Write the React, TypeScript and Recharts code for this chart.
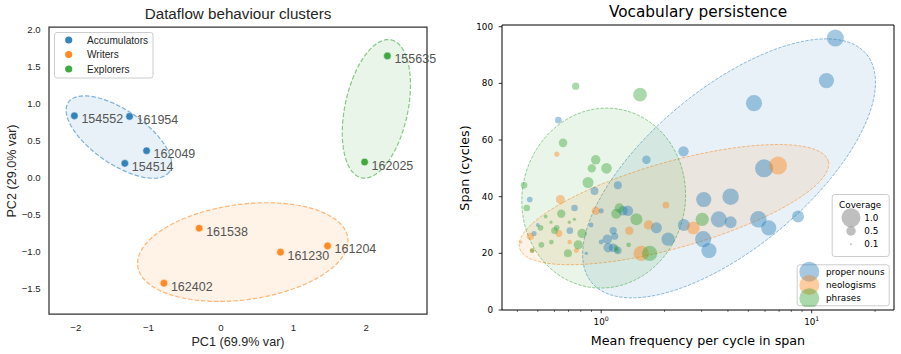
import React from 'react';
import { ScatterChart, Scatter, XAxis, YAxis, Legend } from 'recharts';

const TAB_BLUE = '#1f77b4';
const TAB_ORANGE = '#ff7f0e';
const TAB_GREEN = '#2ca02c';

const SANS = '"Liberation Sans", Arial, sans-serif';
const DEJAVU = '"DejaVu Sans", sans-serif';
const INK = '#262626';

type Pt = { x: number; y: number };
type Labeled = Pt & { id: string };
type Bubble = Pt & { cov: number };

// ---------- Dataflow behaviour clusters (PCA projection) ----------
const clusterNames = ['Accumulators', 'Writers', 'Explorers'];
const clusterColors = [TAB_BLUE, TAB_ORANGE, TAB_GREEN];

const accumulators: Labeled[] = [
  { id: '154552', x: -2.02, y: 0.836 },
  { id: '161954', x: -1.26, y: 0.828 },
  { id: '162049', x: -1.025, y: 0.363 },
  { id: '154514', x: -1.325, y: 0.192 },
];
const writers: Labeled[] = [
  { id: '161538', x: -0.3, y: -0.687 },
  { id: '161230', x: 0.82, y: -1.012 },
  { id: '161204', x: 1.47, y: -0.927 },
  { id: '162402', x: -0.786, y: -1.432 },
];
const explorers: Labeled[] = [
  { id: '155635', x: 2.294, y: 1.648 },
  { id: '162025', x: 1.98, y: 0.21 },
];

// Cluster ellipses: centre, then the ends of two conjugate semi-diameters
const accumulatorsEllipse: Pt[] = [
  { x: -1.407, y: 0.548 },
  { x: -0.711, y: 0.076 },
  { x: -1.619, y: 0.249 },
];
const writersEllipse: Pt[] = [
  { x: 0.301, y: -1.011 },
  { x: 1.749, y: -0.819 },
  { x: 0.39, y: -1.652 },
];
const explorersEllipse: Pt[] = [
  { x: 2.142, y: 0.931 },
  { x: 2.345, y: 1.866 },
  { x: 2.566, y: 0.843 },
];

const pcXDomain = [-2.37, 2.84];
const pcYDomain = [-1.85, 2.04];
const pcXTicks = [-2, -1, 0, 1, 2];
const pcYTicks = [-1.5, -1, -0.5, 0, 0.5, 1, 1.5, 2];

// ---------- Vocabulary persistence ----------
const vocabNames = ['proper nouns', 'neologisms', 'phrases'];
const vocabColors = [TAB_BLUE, TAB_ORANGE, TAB_GREEN];

const properNouns: Bubble[] = [
  { x: 12.95, y: 96, cov: 0.9 },
  { x: 11.75, y: 81, cov: 0.8 },
  { x: 5.32, y: 73, cov: 0.85 },
  { x: 0.626, y: 67, cov: 0.35 },
  { x: 2.46, y: 56, cov: 0.55 },
  { x: 1.64, y: 53, cov: 0.45 },
  { x: 5.94, y: 50, cov: 0.95 },
  { x: 0.93, y: 42, cov: 0.42 },
  { x: 1.2, y: 44, cov: 0.42 },
  { x: 0.458, y: 39, cov: 0.3 },
  { x: 3.07, y: 39, cov: 0.8 },
  { x: 4.12, y: 40, cov: 0.87 },
  { x: 0.747, y: 36, cov: 0.35 },
  { x: 1.27, y: 35, cov: 0.5 },
  { x: 1.34, y: 35, cov: 0.55 },
  { x: 1.0, y: 35, cov: 0.27 },
  { x: 0.5, y: 30, cov: 0.2 },
  { x: 0.48, y: 27, cov: 0.27 },
  { x: 0.71, y: 28, cov: 0.35 },
  { x: 0.895, y: 30, cov: 0.26 },
  { x: 1.14, y: 28, cov: 0.38 },
  { x: 1.16, y: 26, cov: 0.37 },
  { x: 1.0, y: 24, cov: 0.26 },
  { x: 1.07, y: 25, cov: 0.5 },
  { x: 1.08, y: 22, cov: 0.5 },
  { x: 1.14, y: 22, cov: 0.45 },
  { x: 1.2, y: 21, cov: 0.4 },
  { x: 0.85, y: 20, cov: 0.18 },
  { x: 1.83, y: 29, cov: 0.58 },
  { x: 2.08, y: 25, cov: 0.7 },
  { x: 2.47, y: 30, cov: 0.63 },
  { x: 3.62, y: 32, cov: 0.85 },
  { x: 4.12, y: 31, cov: 0.63 },
  { x: 5.58, y: 32, cov: 0.87 },
  { x: 6.25, y: 29, cov: 0.8 },
  { x: 8.61, y: 33, cov: 0.63 },
  { x: 3.05, y: 25, cov: 0.85 },
  { x: 3.25, y: 21, cov: 0.8 },
];

const neologisms: Bubble[] = [
  { x: 6.92, y: 51, cov: 0.95 },
  { x: 0.616, y: 55, cov: 0.27 },
  { x: 0.64, y: 39, cov: 0.47 },
  { x: 0.944, y: 35, cov: 0.44 },
  { x: 2.03, y: 37, cov: 0.35 },
  { x: 1.68, y: 30, cov: 0.5 },
  { x: 1.36, y: 28, cov: 0.44 },
  { x: 1.55, y: 20, cov: 0.8 },
  { x: 2.74, y: 29, cov: 0.68 },
  { x: 0.63, y: 27, cov: 0.36 },
  { x: 0.461, y: 26, cov: 0.38 },
  { x: 0.415, y: 24, cov: 0.17 },
  { x: 0.708, y: 24, cov: 0.23 },
  { x: 0.762, y: 21, cov: 0.26 },
  { x: 0.47, y: 21, cov: 0.25 },
];

const phrases: Bubble[] = [
  { x: 0.757, y: 79, cov: 0.38 },
  { x: 1.53, y: 76, cov: 0.72 },
  { x: 0.659, y: 59, cov: 0.45 },
  { x: 0.942, y: 53, cov: 0.5 },
  { x: 0.902, y: 50, cov: 0.44 },
  { x: 1.06, y: 50, cov: 0.56 },
  { x: 0.866, y: 45, cov: 0.58 },
  { x: 0.43, y: 44, cov: 0.35 },
  { x: 0.443, y: 36, cov: 0.35 },
  { x: 0.646, y: 34, cov: 0.44 },
  { x: 0.545, y: 33, cov: 0.2 },
  { x: 0.578, y: 31, cov: 0.17 },
  { x: 0.706, y: 31, cov: 0.18 },
  { x: 0.746, y: 32, cov: 0.18 },
  { x: 0.515, y: 29, cov: 0.3 },
  { x: 0.6, y: 28, cov: 0.35 },
  { x: 0.615, y: 29, cov: 0.3 },
  { x: 0.812, y: 27, cov: 0.5 },
  { x: 0.52, y: 23, cov: 0.3 },
  { x: 0.58, y: 24, cov: 0.25 },
  { x: 0.778, y: 23, cov: 0.48 },
  { x: 0.695, y: 20, cov: 0.42 },
  { x: 0.47, y: 21, cov: 0.25 },
  { x: 1.18, y: 34, cov: 0.53 },
  { x: 1.22, y: 36, cov: 0.5 },
  { x: 1.47, y: 32, cov: 0.63 },
  { x: 1.7, y: 20, cov: 0.8 },
  { x: 1.35, y: 23, cov: 0.25 },
  { x: 1.18, y: 22, cov: 0.25 },
  { x: 1.19, y: 21, cov: 0.25 },
  { x: 3.02, y: 32, cov: 0.7 },
];

const properNounsEllipse: Pt[] = [
  { x: 4.05, y: 50.0 },
  { x: 18.2, y: 90.3 },
  { x: 7.05, y: 28.4 },
];
const neologismsEllipse: Pt[] = [
  { x: 2.215, y: 37.2 },
  { x: 11.98, y: 52.6 },
  { x: 2.518, y: 22.6 },
];
const phrasesEllipse: Pt[] = [
  { x: 1.028, y: 39.5 },
  { x: 1.214, y: 70.9 },
  { x: 2.479, y: 34.7 },
];

const freqDomain = [0.338, 24.6];
const spanDomain = [0, 100.6];
const freqTicks = [0.4, 0.5, 0.6, 0.7, 0.8, 0.9, 1, 2, 3, 4, 5, 6, 7, 8, 9, 10, 20];
const spanTicks = [0, 20, 40, 60, 80, 100];
const coverageLevels = [1.0, 0.5, 0.1];
const R_MAX = 9.5; // bubble radius in px at coverage 1.0

// ---------- helpers ----------
const minus = (s: string) => s.replace('-', '\u2212');

// Corners of the axes box, taken from the axis limits
const frameCorners = (xd: number[], yd: number[]): Pt[] => [
  { x: xd[0], y: yd[0] },
  { x: xd[1], y: yd[0] },
  { x: xd[1], y: yd[1] },
  { x: xd[0], y: yd[1] },
];

function frameLine(color: string, strokeWidth: number) {
  return (props: any) => {
    const pts: { x: number; y: number }[] = props.points || [];
    const d = pts.map((p, i) => (i === 0 ? 'M' : 'L') + p.x + ',' + p.y).join('') + 'Z';
    return <path d={d} fill="none" stroke={color} strokeWidth={strokeWidth} />;
  };
}

// Closed ellipse through pixel points: centre c, conjugate ends a and b
function ellipsePath(points: { x: number; y: number }[]) {
  if (!points || points.length < 3) return '';
  const [c, a, b] = points;
  const px = a.x - c.x;
  const py = a.y - c.y;
  const qx = b.x - c.x;
  const qy = b.y - c.y;
  const steps = 120;
  let d = '';
  for (let i = 0; i <= steps; i++) {
    const t = (i / steps) * Math.PI * 2;
    const x = c.x + px * Math.cos(t) + qx * Math.sin(t);
    const y = c.y + py * Math.cos(t) + qy * Math.sin(t);
    d += (i === 0 ? 'M' : 'L') + x.toFixed(2) + ',' + y.toFixed(2);
  }
  return d + 'Z';
}

function ellipseLine(color: string, strokeWidth: number, dash: string) {
  return (props: any) => (
    <path
      d={ellipsePath(props.points)}
      fill={color}
      fillOpacity={0.1}
      stroke={color}
      strokeOpacity={0.55}
      strokeWidth={strokeWidth}
      strokeDasharray={dash}
    />
  );
}

const noMarker = () => <g />;

function labeledDot(color: string) {
  return (props: any) => {
    const { cx, cy } = props;
    const id = props.payload?.id ?? props.id;
    return (
      <g>
        <circle cx={cx} cy={cy} r={3.8} fill={color} fillOpacity={0.9} stroke="#fff" strokeWidth={0.5} />
        <text x={cx + 7} y={cy + 3.5} dominantBaseline="central" fontSize={12.5} fill="#555" fontFamily={SANS}>
          {id}
        </text>
      </g>
    );
  };
}

function bubble(color: string) {
  return (props: any) => {
    const cov = props.payload?.cov ?? props.cov;
    return <circle cx={props.cx} cy={props.cy} r={R_MAX * cov} fill={color} fillOpacity={0.4} />;
  };
}

// ---------- tick renderers ----------
const PcXTick = (p: any) => (
  <text x={p.x} y={p.y + 13} textAnchor="middle" dominantBaseline="central" fontSize={9.6} fill={INK} fontFamily={SANS}>
    {minus(String(p.payload.value))}
  </text>
);

const PcYTick = (p: any) => (
  <text x={p.x - 8.3} y={p.y} textAnchor="end" dominantBaseline="central" fontSize={9.6} fill={INK} fontFamily={SANS}>
    {minus(Number(p.payload.value).toFixed(1))}
  </text>
);

const FreqTick = (p: any) => {
  const v = Number(p.payload.value);
  const e = Math.log10(v);
  const major = Math.abs(e - Math.round(e)) < 1e-6;
  return (
    <g>
      <line x1={p.x} x2={p.x} y1={p.y} y2={p.y + (major ? 3.3 : 1.9)} stroke="#000" strokeWidth={major ? 0.8 : 0.6} />
      {major && (
        <text x={p.x} y={p.y + 15} textAnchor="middle" fontSize={8.8} fill="#000" fontFamily={DEJAVU}>
          10
          <tspan dy={-4} fontSize={6.2}>
            {Math.round(e)}
          </tspan>
        </text>
      )}
    </g>
  );
};

const SpanTick = (p: any) => (
  <g>
    <line x1={p.x} x2={p.x - 3.3} y1={p.y} y2={p.y} stroke="#000" strokeWidth={0.8} />
    <text x={p.x - 9} y={p.y} textAnchor="end" dominantBaseline="central" fontSize={8.8} fill="#000" fontFamily={DEJAVU}>
      {p.payload.value}
    </text>
  </g>
);

// ---------- legends ----------
const ClusterLegend = () => (
  <svg width={100} height={47} style={{ display: 'block' }}>
    <rect x={0.5} y={0.5} width={98.5} height={45.5} rx={2.5} fill="#fff" fillOpacity={0.8} stroke="#cccccc" />
    {clusterNames.map((n, i) => (
      <g key={n}>
        <circle cx={14.7} cy={8 + 14.5 * i} r={3.6} fill={clusterColors[i]} fillOpacity={0.9} />
        <text x={33} y={8 + 14.5 * i} dominantBaseline="central" fontSize={10.1} fontFamily={SANS} fill={INK}>
          {n}
        </text>
      </g>
    ))}
  </svg>
);

const VocabLegend = () => (
  <svg width={100} height={113} style={{ display: 'block' }}>
    <g transform="translate(35.7,0)">
      <rect x={0.5} y={0.5} width={57} height={62} rx={2.5} fill="#fff" fillOpacity={0.8} stroke="#cccccc" />
      <text x={28.5} y={10.7} textAnchor="middle" dominantBaseline="central" fontSize={8.8} fontFamily={DEJAVU} fill="#000">
        Coverage
      </text>
      {coverageLevels.map((c, i) => (
        <g key={c}>
          <circle cx={19.3} cy={23.7 + 13.3 * i} r={R_MAX * c} fill="#808080" fillOpacity={0.5} />
          <text x={32.6} y={23.7 + 13.3 * i} dominantBaseline="central" fontSize={8.8} fontFamily={DEJAVU} fill="#000">
            {c.toFixed(1)}
          </text>
        </g>
      ))}
    </g>
    <g transform="translate(0.7,70.3)">
      <rect x={0.5} y={0.5} width={92} height={41} rx={2.5} fill="#fff" fillOpacity={0.8} stroke="#cccccc" />
      {vocabNames.map((n, i) => (
        <g key={n}>
          <circle cx={12.6} cy={7.4 + 13.3 * i} r={10} fill={vocabColors[i]} fillOpacity={0.4} />
          <text x={29.3} y={7.4 + 13.3 * i} dominantBaseline="central" fontSize={8.8} fontFamily={DEJAVU} fill="#000">
            {n}
          </text>
        </g>
      ))}
    </g>
  </svg>
);

// ---------- panels ----------
function ClusterPanel() {
  const groups = [accumulators, writers, explorers];
  const ellipses = [accumulatorsEllipse, writersEllipse, explorersEllipse];
  return (
    <ScatterChart width={450} height={354} margin={{ top: 27, right: 23, bottom: 0, left: 0 }}>
      <XAxis
        type="number"
        dataKey="x"
        domain={pcXDomain}
        ticks={pcXTicks}
        interval={0}
        height={40}
        axisLine={false}
        tickLine={false}
        tickSize={0}
        tickMargin={0}
        tick={(p: any) => <PcXTick {...p} />}
      />
      <YAxis
        type="number"
        dataKey="y"
        domain={pcYDomain}
        ticks={pcYTicks}
        interval={0}
        width={49}
        axisLine={false}
        tickLine={false}
        tickSize={0}
        tickMargin={0}
        tick={(p: any) => <PcYTick {...p} />}
      />
      <Scatter
        name="frame"
        data={frameCorners(pcXDomain, pcYDomain)}
        legendType="none"
        fill="#333"
        shape={noMarker}
        line={frameLine('#333', 1.25)}
        isAnimationActive={false}
      />
      {ellipses.map((e, i) => (
        <Scatter
          key={'e' + i}
          name={'ellipse ' + clusterNames[i]}
          data={e}
          legendType="none"
          shape={noMarker}
          line={ellipseLine(clusterColors[i], 1.2, '4.5 2')}
          isAnimationActive={false}
        />
      ))}
      {groups.map((g, i) => (
        <Scatter
          key={clusterNames[i]}
          name={clusterNames[i]}
          data={g}
          fill={clusterColors[i]}
          shape={labeledDot(clusterColors[i])}
          isAnimationActive={false}
        />
      ))}
      <Legend
        layout="vertical"
        align="center"
        verticalAlign="middle"
        content={() => <ClusterLegend />}
        wrapperStyle={{ left: 54, top: 32, width: 100, height: 47 }}
      />
    </ScatterChart>
  );
}

function VocabPanel() {
  const groups = [properNouns, neologisms, phrases];
  const ellipses = [properNounsEllipse, neologismsEllipse, phrasesEllipse];
  return (
    <ScatterChart width={451} height={354} margin={{ top: 25, right: 7, bottom: 0, left: 0 }}>
      <XAxis
        type="number"
        dataKey="x"
        scale="log"
        domain={freqDomain}
        ticks={freqTicks}
        interval={0}
        height={44}
        axisLine={false}
        tickLine={false}
        tickSize={0}
        tickMargin={0}
        tick={(p: any) => <FreqTick {...p} />}
      />
      <YAxis
        type="number"
        dataKey="y"
        domain={spanDomain}
        ticks={spanTicks}
        interval={0}
        width={52}
        axisLine={false}
        tickLine={false}
        tickSize={0}
        tickMargin={0}
        tick={(p: any) => <SpanTick {...p} />}
      />
      <Scatter
        name="frame"
        data={frameCorners(freqDomain, spanDomain)}
        legendType="none"
        fill="#000"
        shape={noMarker}
        line={frameLine('#000', 1)}
        isAnimationActive={false}
      />
      {ellipses.map((e, i) => (
        <Scatter
          key={'e' + i}
          name={'ellipse ' + vocabNames[i]}
          data={e}
          legendType="none"
          shape={noMarker}
          line={ellipseLine(vocabColors[i], 0.9, '3.3 1.4')}
          isAnimationActive={false}
        />
      ))}
      {groups.map((g, i) => (
        <Scatter
          key={vocabNames[i]}
          name={vocabNames[i]}
          data={g}
          fill={vocabColors[i]}
          shape={bubble(vocabColors[i])}
          isAnimationActive={false}
        />
      ))}
      <Legend
        layout="vertical"
        align="center"
        verticalAlign="middle"
        content={() => <VocabLegend />}
        wrapperStyle={{ left: 346, top: 194, width: 100, height: 113 }}
      />
    </ScatterChart>
  );
}

const abs = (left: number, top: number, extra: React.CSSProperties = {}): React.CSSProperties => ({
  position: 'absolute',
  left,
  top,
  transform: 'translate(-50%, -50%)',
  whiteSpace: 'nowrap',
  lineHeight: 1,
  ...extra,
});

export default function App() {
  return (
    <div style={{ position: 'absolute', left: 0, top: 0, width: 901, height: 354, background: '#fff', overflow: 'hidden' }}>
      <div style={{ position: 'absolute', left: 0, top: 0 }}>
        <ClusterPanel />
      </div>
      <div style={{ position: 'absolute', left: 450, top: 0 }}>
        <VocabPanel />
      </div>

      <div style={abs(238, 14.3, { fontFamily: SANS, fontSize: 15.2, color: INK })}>Dataflow behaviour clusters</div>
      <div style={abs(238, 341.7, { fontFamily: SANS, fontSize: 12.6, color: INK })}>PC1 (69.9% var)</div>
      <div style={abs(12, 170.5, { fontFamily: SANS, fontSize: 12.6, color: INK, transform: 'translate(-50%, -50%) rotate(-90deg)' })}>
        PC2 (29.0% var)
      </div>

      <div style={abs(698, 12.7, { fontFamily: DEJAVU, fontSize: 15.3, color: '#000' })}>Vocabulary persistence</div>
      <div style={abs(698, 341, { fontFamily: DEJAVU, fontSize: 12.7, color: '#000' })}>Mean frequency per cycle in span</div>
      <div style={abs(465, 168, { fontFamily: DEJAVU, fontSize: 12.7, color: '#000', transform: 'translate(-50%, -50%) rotate(-90deg)' })}>
        Span (cycles)
      </div>
    </div>
  );
}
